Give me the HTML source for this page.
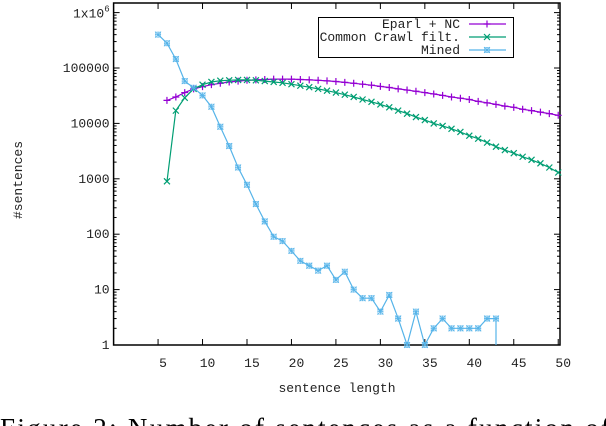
<!DOCTYPE html>
<html><head><meta charset="utf-8"><style>
html,body{margin:0;padding:0;background:#fff;width:606px;height:426px;overflow:hidden}
svg{display:block}
</style></head><body>
<svg id="c" width="606" height="426">
<text x="0" y="437" style="font-family:'Liberation Serif','DejaVu Serif',serif;font-size:27px" fill="#000" textLength="610" lengthAdjust="spacing">Figure 2:  Number of sentences as a function of</text>
</svg>
<script>
const xTicks=[5,10,15,20,25,30,35,40,45,50];
const yTicks=[1,10,100,1000,10000,100000];
const yTickLabels=["1","10","100","1000","10000","100000"];
const xs1=[6,7,8,9,10,11,12,13,14,15,16,17,18,19,20,21,22,23,24,25,26,27,28,29,30,31,32,33,34,35,36,37,38,39,40,41,42,43,44,45,46,47,48,49,50];
const eparl=[26000,30000,36000,42000,46000,50000,53000,56000,58000,60000,61000,62000,63000,63000,63000,62000,61000,60000,58500,57000,55000,53000,51000,49000,46500,44500,42000,40000,38000,36000,34000,32000,30000,28500,27000,25000,23500,22000,20500,19500,18000,17000,16000,15000,14000];
const crawl=[900,17000,29000,42000,50000,56000,59000,60000,61000,61000,60000,58000,56000,54000,51000,48000,45000,42000,39000,36000,33000,30000,27000,24500,22000,19500,17000,15000,13000,11500,10000,9000,8000,7000,6000,5300,4500,3800,3300,2900,2500,2200,1900,1600,1300];
const xsMined=[5,6,7,8,9,10,11,12,13,14,15,16,17,18,19,20,21,22,23,24,25,26,27,28,29,30,31,32,33,34,35,36,37,38,39,40,41,42,43];
const mined=[400000,280000,145000,58000,44000,32000,20000,8700,3900,1600,780,350,170,90,75,50,33,27,22,27,15,21,10,7,7,4,8,3,1,4,1,2,3,2,2,2,2,3,3];
const PL=113.6,PR=560,PT=3,PB=345,DEC=55.4;
const X=v=>PL+v*(PR-113.6)/50.2;
const Y=v=>PB-Math.log10(v)*DEC;
const svg=document.getElementById('c');
const NS='http://www.w3.org/2000/svg';
const MONO="'Liberation Mono','Courier New',Courier,monospace";
function mk(tag,attrs,parent){const e=document.createElementNS(NS,tag);for(const k in attrs)e.setAttribute(k,attrs[k]);(parent||svg).appendChild(e);return e;}
function txt(attrs,parent){attrs['font-family']=MONO;attrs['font-size']=13;attrs.fill='#222';return mk('text',attrs,parent);}
for(const v of xTicks){const x=X(v);
 const t=mk('line',{x1:x,x2:x,y1:PB,y2:PB-6,stroke:'#000'});
 
 
 const t2=mk('line',{x1:x,x2:x,y1:PT,y2:PT+6,stroke:'#000'});
 
 
 const l=txt({x:x+5,y:PB+22,'text-anchor':'middle'});l.textContent=v;
 
 }
for(let d=0;d<=6;d++){for(let m=1;m<10;m++){const v=Math.pow(10,d)*m;const y=Y(v);if(y<PT)continue;
 const len=m===1?6:3;
 const a=mk('line',{x1:PL,x2:PL+len,y1:y,y2:y,stroke:'#000'});
 
 
 const b=mk('line',{x1:PR-len,x2:PR,y1:y,y2:y,stroke:'#000'});
 
 }}
yTicks.forEach((v,i)=>{const l=txt({x:PL-4,y:Y(v)+4,'text-anchor':'end'});l.textContent=yTickLabels[i];
 
 });
const topLbl=txt({x:PL-4,y:Y(1e6)+5,'text-anchor':'end'});
const ts1=mk('tspan',{},topLbl);ts1.textContent='1x10';
const ts2=mk('tspan',{dy:-6,'font-size':9},topLbl);ts2.textContent='6';


const frame=mk('rect',{x:PL,y:PT,width:PR-PL,height:PB-PT,fill:'none',stroke:'#000','stroke-width':1.5});


const xl=txt({x:337,y:392,'text-anchor':'middle'});xl.textContent='sentence length';


const yl=txt({x:0,y:0,'text-anchor':'middle',transform:'translate(22,180) rotate(-90)'});yl.textContent='#sentences';


function marker(type,x,y,col,g){
 if(type==='+'){mk('path',{d:`M${x-3.5},${y}h7M${x},${y-3.5}v7`,stroke:col,'stroke-width':1.2},g);}
 else if(type==='x'){mk('path',{d:`M${x-3},${y-3}l6,6M${x-3},${y+3}l6,-6`,stroke:col,'stroke-width':1.2},g);}
 else{mk('path',{d:`M${x-3},${y-3}l6,6M${x-3},${y+3}l6,-6M${x-3},${y}h6M${x},${y-3}v6`,stroke:col,'stroke-width':0.8},g);mk('rect',{x:x-2.5,y:y-2.5,width:5,height:5,fill:'none',stroke:col,'stroke-width':0.8,opacity:0.7},g);}
}
function series(name,xs,ys,col,type,extra){
 const g=mk('g',{});
 
 
 let d=xs.map((x,i)=>(i?'L':'M')+X(x).toFixed(1)+','+Y(ys[i]).toFixed(1)).join('');
 if(extra)d+=extra;
 const p=mk('path',{d:d,fill:'none',stroke:col,'stroke-width':1.2},g);
 
 
 xs.forEach((x,i)=>marker(type,X(x),Y(ys[i]),col,g));
}
series('series-eparl-nc',xs1,eparl,'#9400d3','+');
series('series-common-crawl',xs1,crawl,'#009e73','x');
series('series-mined',xsMined,mined,'#56b4e9','*','V'+PB);
const lg=mk('g',{});


mk('rect',{x:318.5,y:17.5,width:195,height:40,fill:'#fff',stroke:'#000'},lg);
const ents=[['Eparl + NC','#9400d3','+',29],['Common Crawl filt.','#009e73','x',42],['Mined','#56b4e9','*',55]];
for(const [t,c,m,y] of ents){
 const e=mk('g',{},lg);
 
 
 const tx=txt({x:460,y:y-1,'text-anchor':'end'},e);tx.textContent=t;
 mk('line',{x1:469,x2:506,y1:y-5,y2:y-5,stroke:c,'stroke-width':1.2},e);
 marker(m,487,y-5,c,e);
}
</script>
</body></html>
